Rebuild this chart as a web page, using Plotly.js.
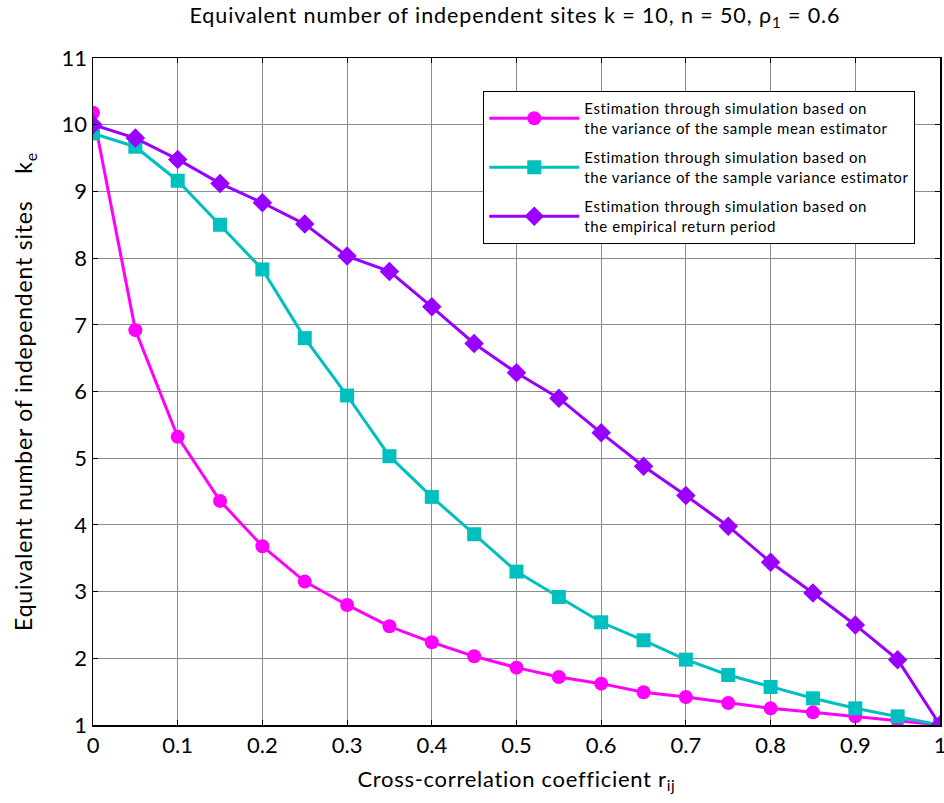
<!DOCTYPE html>
<html>
<head>
<meta charset="utf-8">
<script src="https://cdn.plot.ly/plotly-3.0.1.min.js"></script>
<style>
body{margin:0;padding:0;background:#fff;}
#chart{width:944px;height:803px;}
.gtitle{letter-spacing:0.9px;}
.xtitle{letter-spacing:0.7px;}
.ytitle{letter-spacing:0.8px;}
.legendtext{letter-spacing:0.6px;}
</style>
</head>
<body>
<div id="chart"></div>
<script>
const rij = [0, 0.05, 0.1, 0.15, 0.2, 0.25, 0.3, 0.35, 0.4, 0.45, 0.5, 0.55, 0.6, 0.65, 0.7, 0.75, 0.8, 0.85, 0.9, 0.95, 1.0];
const meanEstimator = [10.18, 6.92, 5.32, 4.36, 3.68, 3.15, 2.8, 2.48, 2.24, 2.03, 1.86, 1.72, 1.62, 1.49, 1.42, 1.33, 1.25, 1.19, 1.13, 1.07, 1.0];
const varianceEstimator = [9.87, 9.67, 9.16, 8.5, 7.83, 6.8, 5.94, 5.03, 4.42, 3.86, 3.3, 2.92, 2.54, 2.27, 1.98, 1.75, 1.57, 1.4, 1.25, 1.13, 1.0];
const returnPeriod = [10.0, 9.8, 9.48, 9.12, 8.83, 8.51, 8.03, 7.8, 7.27, 6.72, 6.28, 5.9, 5.38, 4.88, 4.44, 3.98, 3.44, 2.98, 2.5, 1.98, 1.0];
const seriesNames = [
  "Estimation through simulation based on<br>the variance of the sample mean estimator",
  "Estimation through simulation based on<br>the variance of the sample variance estimator",
  "Estimation through simulation based on<br>the empirical return period"
];
const xTicks = [0, 0.1, 0.2, 0.3, 0.4, 0.5, 0.6, 0.7, 0.8, 0.9, 1];
const xTickText = ["0", "0.1", "0.2", "0.3", "0.4", "0.5", "0.6", "0.7", "0.8", "0.9", "1"];
const yTicks = [1, 2, 3, 4, 5, 6, 7, 8, 9, 10, 11];

const FONT = 'Lato, "Noto Sans", sans-serif';

const traces = [
  {x: rij, y: meanEstimator, name: seriesNames[0], legendgroup: 'a', mode: 'lines+markers',
   line: {color: '#ff00ff', width: 3}, marker: {symbol: 'circle', size: 14, color: '#ff00ff'}},
  {x: rij, y: varianceEstimator, name: seriesNames[1], legendgroup: 'b', mode: 'lines+markers',
   line: {color: '#00bfbf', width: 3}, marker: {symbol: 'square', size: 14, color: '#00bfbf'}},
  {x: rij, y: returnPeriod, name: seriesNames[2], legendgroup: 'c', mode: 'lines+markers',
   line: {color: '#9900ff', width: 3}, marker: {symbol: 'diamond', size: 15, color: '#9900ff'}}
];

const layout = {
  width: 944, height: 803,
  margin: {l: 93, r: 4, t: 58, b: 78},
  paper_bgcolor: '#fff', plot_bgcolor: '#fff',
  showlegend: true,
  title: {
    text: 'Equivalent number of independent sites k = 10, n = 50, ρ<sub>1</sub> = 0.6',
    font: {family: FONT, size: 21.5, color: '#000'},
    x: 0.5455, xanchor: 'center', y: 0.99, yanchor: 'top'
  },
  xaxis: {
    range: [0, 1], tickvals: xTicks, ticktext: xTickText,
    showgrid: true, gridcolor: '#8c8c8c', gridwidth: 1,
    showline: true, linecolor: '#000', linewidth: 1.5, mirror: 'ticks',
    ticks: 'inside', ticklen: 5, tickcolor: '#000',
    zeroline: false, ticklabeloverflow: 'allow',
    tickfont: {family: FONT, size: 22, color: '#000'},
    title: {text: 'Cross-correlation coefficient r<sub>ij</sub>',
            font: {family: FONT, size: 22, color: '#000'}, standoff: 14}
  },
  yaxis: {
    range: [1, 11], tickvals: yTicks,
    showgrid: true, gridcolor: '#8c8c8c', gridwidth: 1,
    showline: true, linecolor: '#000', linewidth: 1.5, mirror: 'ticks',
    ticks: 'inside', ticklen: 5, tickcolor: '#000',
    zeroline: false, ticklabeloverflow: 'allow',
    tickfont: {family: FONT, size: 22, color: '#000'},
    title: {text: 'Equivalent number of independent sites    k<sub>e</sub>',
            font: {family: FONT, size: 23, color: '#000'}, standoff: 22}
  },
  legend: {
    x: 0.4605, y: 0.9505, xanchor: 'left', yanchor: 'top',
    bgcolor: '#fff', bordercolor: '#000', borderwidth: 1.2,
    font: {family: FONT, size: 15, color: '#000'},
    itemwidth: 90, traceorder: 'grouped', tracegroupgap: 7
  }
};

Plotly.newPlot('chart', traces, layout, {displayModeBar: false, staticPlot: true});
</script>
</body>
</html>
